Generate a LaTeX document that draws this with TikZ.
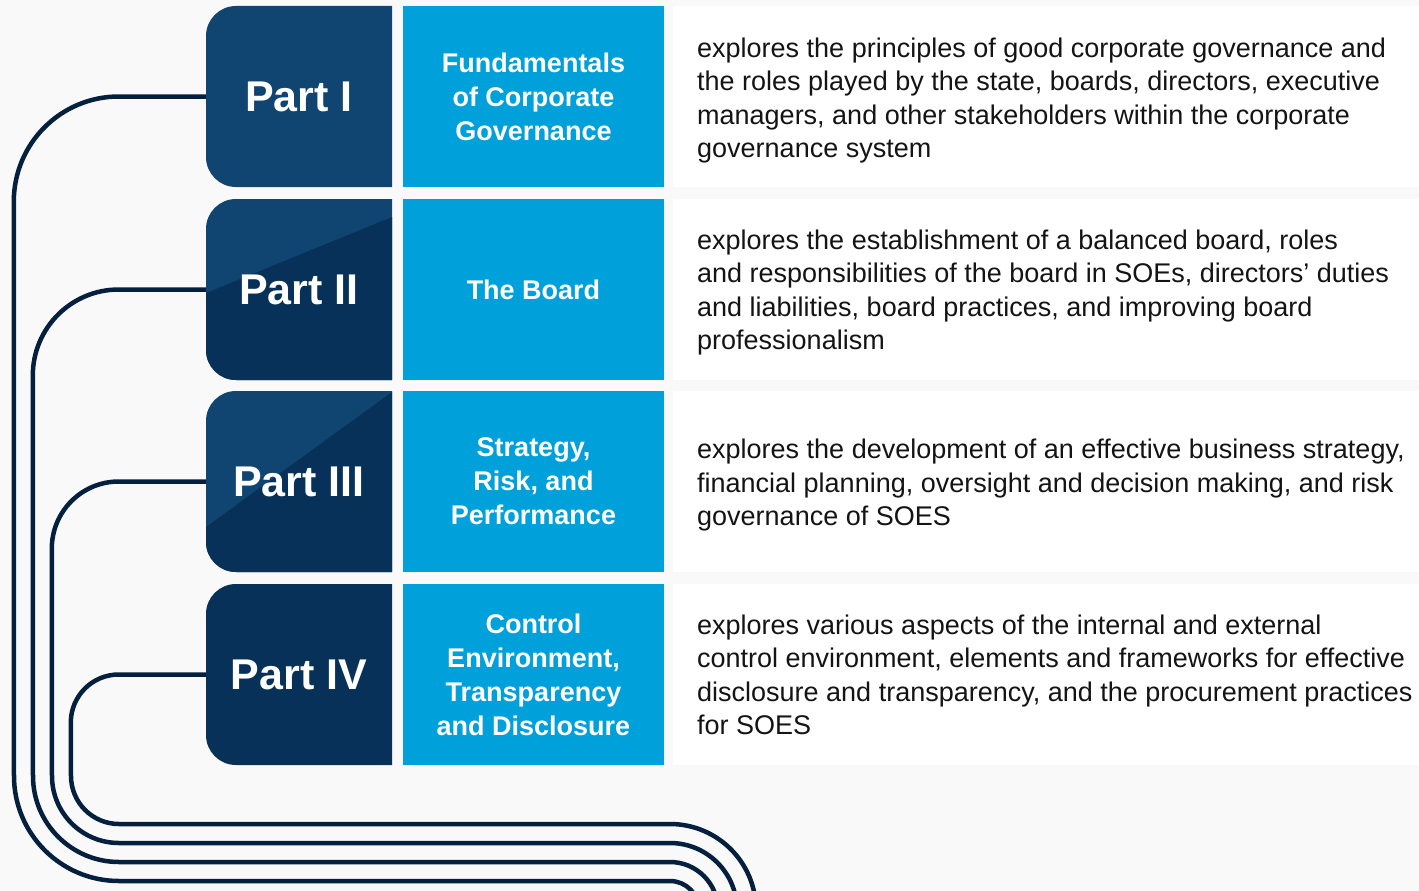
\documentclass[tikz,border=0pt]{standalone}
\usepackage{fontspec}
\setmainfont{Liberation Sans}
\definecolor{partblue}{RGB}{17,69,113}
\definecolor{partdark}{RGB}{8,49,89}
\definecolor{topicblue}{RGB}{0,160,219}
\definecolor{wirenavy}{RGB}{5,31,62}
\definecolor{pagegray}{RGB}{249,249,250}
\definecolor{desctext}{RGB}{20,20,20}

\begin{document}
\begin{tikzpicture}[x=1pt, y=-1pt,
    partlabel/.style={minimum width=186pt, minimum height=181pt, inner sep=0pt,
      text=white, font=\fontsize{43}{50}\selectfont\bfseries},
    topicbox/.style={fill=topicblue, minimum width=261pt, minimum height=181pt,
      inner sep=0pt, text=white, align=center, font=\fontsize{27}{34}\selectfont\bfseries},
    desc/.style={anchor=west, inner sep=0pt, align=left, text=desctext,
      font=\fontsize{27}{33.5}\selectfont},
    wire/.style={wirenavy, line width=4.5pt}]
    \useasboundingbox (0,0) rectangle (1419,891) ;
    \clip (0,0) rectangle (1419,891) ;
    \fill [pagegray] (0,0) rectangle (1419,891) ;
    % tiles on the left, white panels on the right
    \foreach \t/\b/\c in {6/187/partblue, 199/380/partblue, 391/572/partblue, 584/765/partdark} {
      \fill [\c] (392,\t) -- (236,\t) arc [start angle=270, end angle=180, radius=30]
        -- (206,{\b-30}) arc [start angle=180, end angle=90, radius=30] -- (392,\b) -- cycle ;
      \fill [white] (673,\t) rectangle (1419,\b) ;
    }
    \fill [partdark] (206,293) -- (392,217) -- (392,380) -- (236,380)
      arc [start angle=90, end angle=180, radius=30] -- cycle ;
    \fill [partdark] (206,527) -- (392,392) -- (392,572) -- (236,572)
      arc [start angle=90, end angle=180, radius=30] -- cycle ;
    % parts
    \node [partlabel] (pone) at (299,96.5) {Part I} ;
    \node [partlabel] (ptwo) at (299,289.5) {Part II} ;
    \node [partlabel] (pthree) at (299,481.5) {Part III} ;
    \node [partlabel] (pfour) at (299,674.5) {Part IV} ;
    % topics
    \node [topicbox] (tone) at (533.5,96.5) {Fundamentals\\of Corporate\\Governance} ;
    \node [topicbox] (ttwo) at (533.5,289.5) {The Board} ;
    \node [topicbox] (tthree) at (533.5,481.5) {Strategy,\\Risk, and\\Performance} ;
    \node [topicbox] (tfour) at (533.5,674.5) {Control\\Environment,\\Transparency\\and Disclosure} ;
    % descriptions
    \node [desc] (done) at (697,100.5) {explores the principles of good corporate governance and\\the roles played by the state, boards, directors, executive\\managers, and other stakeholders within the corporate\\governance system} ;
    \node [desc] (dtwo) at (697,292.5) {explores the establishment of a balanced board, roles\\and responsibilities of the board in SOEs, directors’ duties\\and liabilities, board practices, and improving board\\professionalism} ;
    \node [desc] (dthree) at (697,485.5) {explores the development of an effective business strategy,\\financial planning, oversight and decision making, and risk\\governance of SOES} ;
    \node [desc] (dfour) at (697,675) {explores various aspects of the internal and external\\control environment, elements and frameworks for effective\\disclosure and transparency, and the procurement practices\\for SOES} ;
    % wires
    \foreach \n/\xv/\r in {pone/14/105, ptwo/33/86, pthree/52/67, pfour/71/48} {
      \draw [wire] (\n.west) -- ++(-87,0) arc [start angle=270, end angle=180, radius=\r]
        -- (\xv,776) arc [start angle=180, end angle=90, radius=\r]
        -- (670,{776+\r}) arc [start angle=270, end angle=360, radius={134-\r}] ;
    }
\end{tikzpicture}
\end{document}
